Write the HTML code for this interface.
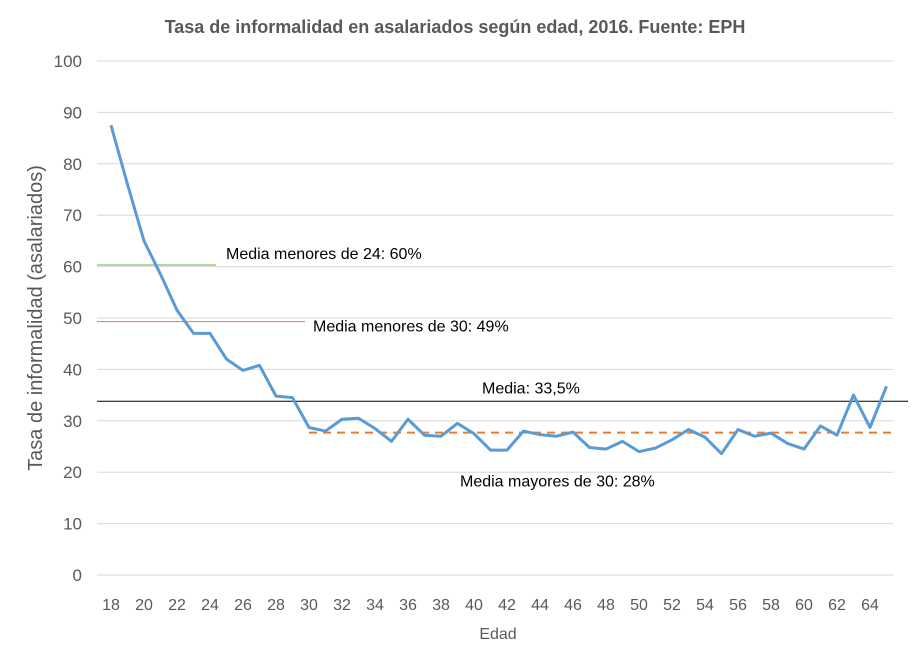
<!DOCTYPE html>
<html><head><meta charset="utf-8"><style>
body{margin:0;background:#fff;font-family:"Liberation Sans",sans-serif}
svg text{font-family:"Liberation Sans",sans-serif}
</style></head><body>
<svg id="chart" width="912" height="662" xmlns="http://www.w3.org/2000/svg">
<rect width="912" height="662" fill="#fff"/>
<text x="455" y="33" text-anchor="middle" font-size="18" font-weight="bold" fill="#595959">Tasa de informalidad en asalariados según edad, 2016. Fuente: EPH</text>
<text transform="translate(42,318) rotate(-90)" text-anchor="middle" font-size="20" fill="#595959">Tasa de informalidad (asalariados)</text>
<text x="498" y="639" text-anchor="middle" font-size="16" fill="#595959">Edad</text>
<g id="grid"></g><g id="ylabels"></g><g id="xlabels"></g><g id="refs"></g><g id="series"></g>
</svg>
<script>
const ages=[18,19,20,21,22,23,24,25,26,27,28,29,30,31,32,33,34,35,36,37,38,39,40,41,42,43,44,45,46,47,48,49,50,51,52,53,54,55,56,57,58,59,60,61,62,63,64,65];
const rates=[87.5,76,65,58.5,51.5,47,47,42,39.8,40.8,34.8,34.5,28.7,28,30.3,30.5,28.5,26,30.3,27.2,27,29.5,27.5,24.3,24.3,28,27.3,27,27.8,24.8,24.5,26,24,24.7,26.3,28.3,26.8,23.6,28.3,27,27.6,25.6,24.5,29,27.2,35,28.7,36.7];
const yTicks=[0,10,20,30,40,50,60,70,80,90,100];
const xTicks=[18,20,22,24,26,28,30,32,34,36,38,40,42,44,46,48,50,52,54,56,58,60,62,64];
const refValues=[60.3,49.3,33.8,27.7];
const refLabels=["Media menores de 24: 60%","Media menores de 30: 49%","Media: 33,5%","Media mayores de 30: 28%"];
const NS="http://www.w3.org/2000/svg";
const y=v=>575-v*5.14;
const x=a=>111+(a-18)*16.5;
function mk(tag,attrs,parent,txt){const e=document.createElementNS(NS,tag);for(const k in attrs)e.setAttribute(k,attrs[k]);if(txt!==undefined)e.textContent=txt;document.getElementById(parent).appendChild(e);return e;}
yTicks.forEach(t=>{
  const l=mk('line',{x1:97,x2:893,y1:y(t),y2:y(t),stroke:'#d9d9d9','stroke-width':1},'grid');
  
  
  const tx=mk('text',{x:82,y:y(t)+6,'text-anchor':'end','font-size':17,fill:'#595959'},'ylabels',t);
  
  
});
xTicks.forEach(t=>{
  const tx=mk('text',{x:x(t),y:610,'text-anchor':'middle','font-size':16,fill:'#595959'},'xlabels',t);
  
  
});
const refSpecs=[{x1:97,x2:216,c:'#70ad47',w:1,d:'',lx:226,ly:-6},{x1:97,x2:305,c:'#ed7d31',w:1,d:'',lx:313,ly:10},{x1:97,x2:908,c:'#000',w:1,d:'',lx:482,ly:-8},{x1:x(30),x2:893,c:'#ed7d31',w:2,d:'8,6',lx:460,ly:54}];
refValues.forEach((v,i)=>{
  const s=refSpecs[i];
  const l=mk('line',{x1:s.x1,x2:s.x2,y1:y(v),y2:y(v),stroke:s.c,'stroke-width':s.w,'stroke-dasharray':s.d},'refs');
  
  
  const t=mk('text',{x:s.lx,y:y(v)+s.ly,'font-size':16,fill:'#000'},'refs',refLabels[i]);
  
  
});
const p=mk('polyline',{points:ages.map((a,i)=>x(a)+','+y(rates[i])).join(' '),fill:'none',stroke:'#5b9bd5','stroke-width':3,'stroke-linejoin':'round'},'series');


</script>
</body></html>
